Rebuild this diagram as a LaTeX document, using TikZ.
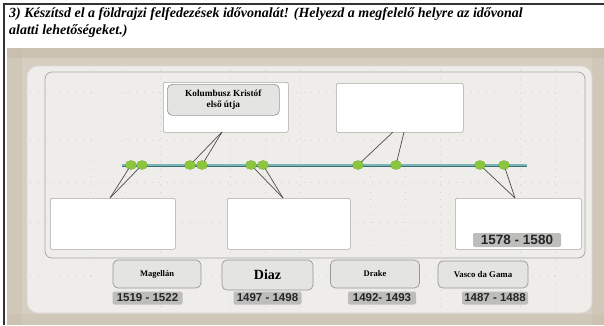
\documentclass[tikz,border=0pt]{standalone}
\usepackage{fontspec}
\setmainfont{Liberation Serif}
\newfontfamily\yearfont{Liberation Sans}
\usetikzlibrary{shapes.geometric}
\definecolor{beige}{HTML}{D6CEC0}
\definecolor{beigedark}{HTML}{C4BAA8}
\definecolor{panel}{HTML}{EEEDEA}
\definecolor{framegray}{HTML}{A8A8A4}
\definecolor{labelfill}{HTML}{E4E4E2}
\definecolor{yearfill}{HTML}{BDBDBB}
\definecolor{teal}{HTML}{4F9EA4}
\definecolor{dotgreen}{HTML}{8CC63F}
\tikzset{
  answerbox/.style={draw=framegray, fill=white, line width=0.6pt, rounded corners=2pt},
  namebox/.style={draw=framegray!90!black, fill=labelfill, line width=0.7pt, rounded corners=5pt, font=\bfseries, align=center, inner sep=0pt},
  yearbox/.style={fill=yearfill, rounded corners=2pt, font=\yearfont\bfseries, inner sep=1pt, text=black!85},
  tdot/.style={ellipse, fill=dotgreen, draw=dotgreen!80!black, line width=0.3pt, minimum width=11pt, minimum height=9pt, inner sep=0pt},
  conn/.style={draw=black!70, line width=0.7pt},
  griddot/.style={draw=black!18, line width=0.5pt, dash pattern=on 0.6pt off 7pt}
}
\begin{document}
\begin{tikzpicture}[x=1pt,y=-1pt]
\useasboundingbox (0,0) rectangle (604,325);
\fill[white] (0,0) rectangle (604,325);
% outer border
\draw[black!80, line width=1.2pt] (4,325) -- (4,4) -- (604,4);
% title
\node[anchor=north west, align=left, font=\fontsize{14}{17}\selectfont\bfseries\itshape, inner sep=0pt] (title) at (9,7)
  {3) Készítsd el a földrajzi felfedezések idővonalát! (Helyezd a megfelelő helyre az idővonal\\alatti lehetőségeket.)};
% beige background
\fill[beige] (7,48) rectangle (604,325);
\fill[beigedark, opacity=0.5] (7,48) rectangle (604,58);
\fill[beigedark, opacity=0.35] (7,48) rectangle (22,325);
\fill[beigedark, opacity=0.35] (592,48) rectangle (604,325);
\fill[beigedark, opacity=0.35] (7,314) rectangle (604,325);
% light panel
\draw[fill=panel, draw=white!85!black, line width=0.8pt, rounded corners=11pt] (27,66) rectangle (592,313);
% grid dots
\foreach \y in {92,140,182,222,276}
  \draw[griddot] (30,\y) -- (590,\y);
\foreach \x in {90,125,160,230,265,300,370,405,440,520,555}
  \draw[griddot] (\x,70) -- (\x,310);
% inner frame
\draw[draw=framegray, line width=0.8pt, rounded corners=7pt] (45,72) rectangle (585,258);
% timeline
\draw[line width=3pt, draw=teal!70!black] (122,165) -- (527,165);
\draw[line width=1.6pt, draw=teal!75!white] (122,165) -- (527,165);
% answer boxes
\node[answerbox, minimum width=125pt, minimum height=50pt, anchor=north west] (t1) at (163,82) {};
\node[answerbox, minimum width=127pt, minimum height=49pt, anchor=north west] (t2) at (336,83) {};
\node[answerbox, minimum width=125pt, minimum height=51pt, anchor=north west] (b1) at (50,198) {};
\node[answerbox, minimum width=123pt, minimum height=51pt, anchor=north west] (b2) at (227,198) {};
\node[answerbox, minimum width=126pt, minimum height=51pt, anchor=north west] (b3) at (455,198) {};
% anchor coordinates
\coordinate (t1c) at (222,132);
\coordinate (t2a) at (393,132);
\coordinate (t2b) at (404,132);
\coordinate (b1c) at (110,198);
\coordinate (b2c) at (283,198);
\coordinate (b3c) at (515,198);
% dots
\node[tdot] (d1) at (131,165) {};
\node[tdot] (d2) at (142,165) {};
\node[tdot] (d3) at (190,165) {};
\node[tdot] (d4) at (202,165) {};
\node[tdot] (d5) at (251,165) {};
\node[tdot] (d6) at (263,165) {};
\node[tdot] (d7) at (358,165) {};
\node[tdot] (d8) at (396,165) {};
\node[tdot] (d9) at (480,165) {};
\node[tdot] (d10) at (504,165) {};
% connectors
\draw[conn] (t1c) -- (d3.center);
\draw[conn] (t1c) -- (d4.center);
\draw[conn] (t2a) -- (d7.center);
\draw[conn] (t2b) -- (d8.center);
\draw[conn] (b1c) -- (d1.center);
\draw[conn] (b1c) -- (d2.center);
\draw[conn] (b2c) -- (d5.center);
\draw[conn] (b2c) -- (d6.center);
\draw[conn] (b3c) -- (d9.center);
\draw[conn] (b3c) -- (d10.center);
% redraw dots on top
\foreach \n in {d1,d2,d3,d4,d5,d6,d7,d8,d9,d10}
  \fill[dotgreen] (\n.center) ellipse (5.3pt and 4.3pt);
% Kolumbusz label
\node[namebox, minimum width=112pt, minimum height=31pt, font=\fontsize{9.3}{11}\selectfont\bfseries, anchor=north west] (kol) at (167,84) {Kolumbusz Kristóf\\első útja};
% year inside b3
\node[yearbox, minimum width=88pt, minimum height=14pt, font=\yearfont\bfseries\fontsize{13.5}{14}\selectfont] (y0) at (517,240) {1578 - 1580};
% bottom name boxes
\node[namebox, minimum width=88pt, minimum height=28pt, font=\fontsize{8.5}{9}\selectfont\bfseries] (n1) at (157,274) {Magellán};
\node[namebox, minimum width=91pt, minimum height=30pt, font=\fontsize{14}{15}\selectfont\bfseries] (n2) at (267.5,275) {Diaz};
\node[namebox, minimum width=89pt, minimum height=28pt, font=\fontsize{8.5}{9}\selectfont\bfseries] (n3) at (375,274) {Drake};
\node[namebox, minimum width=90pt, minimum height=27pt, font=\fontsize{8.8}{9}\selectfont\bfseries] (n4) at (483,274.5) {Vasco da Gama};
% year labels
\node[yearbox, minimum width=70pt, minimum height=13pt, font=\yearfont\bfseries\fontsize{11.5}{12}\selectfont] (y1) at (147.5,298) {1519 - 1522};
\node[yearbox, minimum width=68pt, minimum height=13pt, font=\yearfont\bfseries\fontsize{11.5}{12}\selectfont] (y2) at (267.5,298) {1497 - 1498};
\node[yearbox, minimum width=68pt, minimum height=13pt, font=\yearfont\bfseries\fontsize{11.5}{12}\selectfont] (y3) at (382,298) {1492- 1493};
\node[yearbox, minimum width=66pt, minimum height=13pt, font=\yearfont\bfseries\fontsize{11.5}{12}\selectfont] (y4) at (495,298) {1487 - 1488};
\end{tikzpicture}
\end{document}
